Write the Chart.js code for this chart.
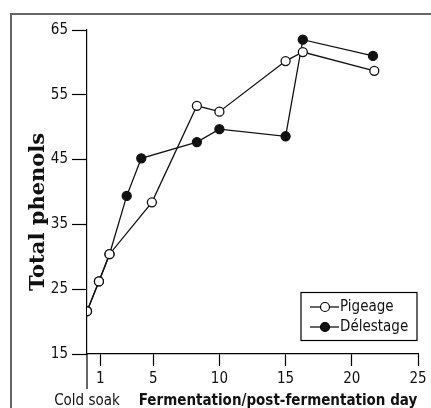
<!DOCTYPE html>
<html>
<head>
<meta charset="utf-8">
<script src="https://cdn.jsdelivr.net/npm/chart.js@4.4.1/dist/chart.umd.min.js"></script>
<style>
  html, body { margin: 0; padding: 0; background: #fff; }
  #wrap { width: 431px; height: 408px; }
</style>
</head>
<body>
<div id="wrap"><canvas id="phenolChart" width="431" height="408"></canvas></div>
<script>
// dati
const pigeageDays = [0, 0.9, 1.7, 4.9, 8.3, 10, 15, 16.3, 21.7];
const pigeageValues = [21.6, 26.2, 30.4, 38.4, 53.3, 52.4, 60.2, 61.6, 58.7];
const delestageDays = [0, 0.9, 1.7, 3, 4.1, 8.3, 10, 15, 16.3, 21.6];
const delestageValues = [21.6, 26.2, 30.4, 39.4, 45.2, 47.7, 49.7, 48.6, 63.5, 61.0];
const xTickValues = [1, 5, 10, 15, 20, 25];
const yTickValues = [15, 25, 35, 45, 55, 65];
const seriesNames = ["Pigeage", "Délestage"];

const narrow = '"Liberation Sans Narrow", "DejaVu Sans Condensed", "Liberation Sans", sans-serif';

function toPoints(xs, ys) {
  return xs.map((x, i) => ({ x: x, y: ys[i] }));
}

// cornice, etichette e legenda disegnate a mano
const extras = {
  id: 'extras',
  afterDraw(chart) {
    const c = chart.ctx;
    const area = chart.chartArea;
    c.save();
    // cornice grigia
    c.strokeStyle = '#666';
    c.lineWidth = 2;
    c.beginPath();
    c.moveTo(11, 408);
    c.lineTo(11, 14);
    c.lineTo(431, 14);
    c.stroke();

    // separatore cold soak
    c.strokeStyle = '#000';
    c.lineWidth = 1.2;
    c.beginPath();
    c.moveTo(area.left, area.bottom);
    c.lineTo(area.left, 389);
    c.stroke();

    c.fillStyle = '#111';
    c.textBaseline = 'middle';
    c.textAlign = 'center';
    c.font = '15px ' + narrow;
    c.fillText('Cold soak', area.left, 401);
    c.font = 'bold 15px ' + narrow;
    c.fillText('Fermentation/post-fermentation day', 278, 401);

    c.save();
    c.translate(39, 212);
    c.rotate(-Math.PI / 2);
    c.font = 'bold 21px "DejaVu Serif", "Liberation Serif", serif';
    c.fillText('Total phenols', 0, 0);
    c.restore();

    // legenda
    c.lineWidth = 1.2;
    c.strokeStyle = '#000';
    c.strokeRect(301, 292.5, 116, 48);
    const rows = [307, 327];
    rows.forEach((y, i) => {
      c.beginPath();
      c.moveTo(310, y);
      c.lineTo(339, y);
      c.stroke();
      c.beginPath();
      c.arc(325, y, 4.5, 0, Math.PI * 2);
      c.fillStyle = i === 0 ? '#fff' : '#111';
      c.fill();
      c.stroke();
      c.fillStyle = '#111';
      c.textAlign = 'left';
      c.font = '15px ' + narrow;
      c.fillText(seriesNames[i], 340, y);
    });
    c.restore();
  }
};

const ctx = document.getElementById('phenolChart').getContext('2d');

new Chart(ctx, {
  type: 'line',
  data: {
    datasets: [{
      label: seriesNames[0],
      data: toPoints(pigeageDays, pigeageValues),
      borderColor: '#111',
      backgroundColor: '#fff',
      pointBackgroundColor: '#fff',
      pointBorderColor: '#111',
      borderWidth: 1.3,
      pointBorderWidth: 1.3,
      pointRadius: 4.5,
      tension: 0
    }, {
      label: seriesNames[1],
      data: toPoints(delestageDays, delestageValues),
      borderColor: '#111',
      backgroundColor: '#111',
      pointBackgroundColor: '#111',
      pointBorderColor: '#111',
      borderWidth: 1.3,
      pointBorderWidth: 1.3,
      pointRadius: 4.5,
      tension: 0
    }]
  },
  options: {
    responsive: false,
    animation: false,
    layout: { padding: { left: 0, right: 13, top: 30, bottom: 0 } },
    plugins: {
      legend: { display: false },
      tooltip: { enabled: false }
    },
    scales: {
      x: {
        type: 'linear',
        min: 0,
        max: 25,
        afterBuildTicks: (scale) => { scale.ticks = xTickValues.map(v => ({ value: v })); },
        afterFit: (scale) => { scale.height = 54; },
        grid: { drawOnChartArea: false, tickLength: 12, tickColor: '#000', tickWidth: 1.2 },
        border: { color: '#000', width: 1.2 },
        ticks: { color: '#111', padding: 4, maxRotation: 0, font: { family: narrow, size: 15 } }
      },
      y: {
        min: 15,
        max: 65,
        afterBuildTicks: (scale) => { scale.ticks = yTickValues.map(v => ({ value: v })); },
        afterFit: (scale) => { scale.width = 87; },
        grid: { drawOnChartArea: false, tickLength: 15, tickColor: '#000', tickWidth: 1.2 },
        border: { color: '#000', width: 1.2 },
        ticks: { color: '#111', padding: 4, font: { family: narrow, size: 15 } }
      }
    }
  },
  plugins: [extras]
});
</script>
</body>
</html>
